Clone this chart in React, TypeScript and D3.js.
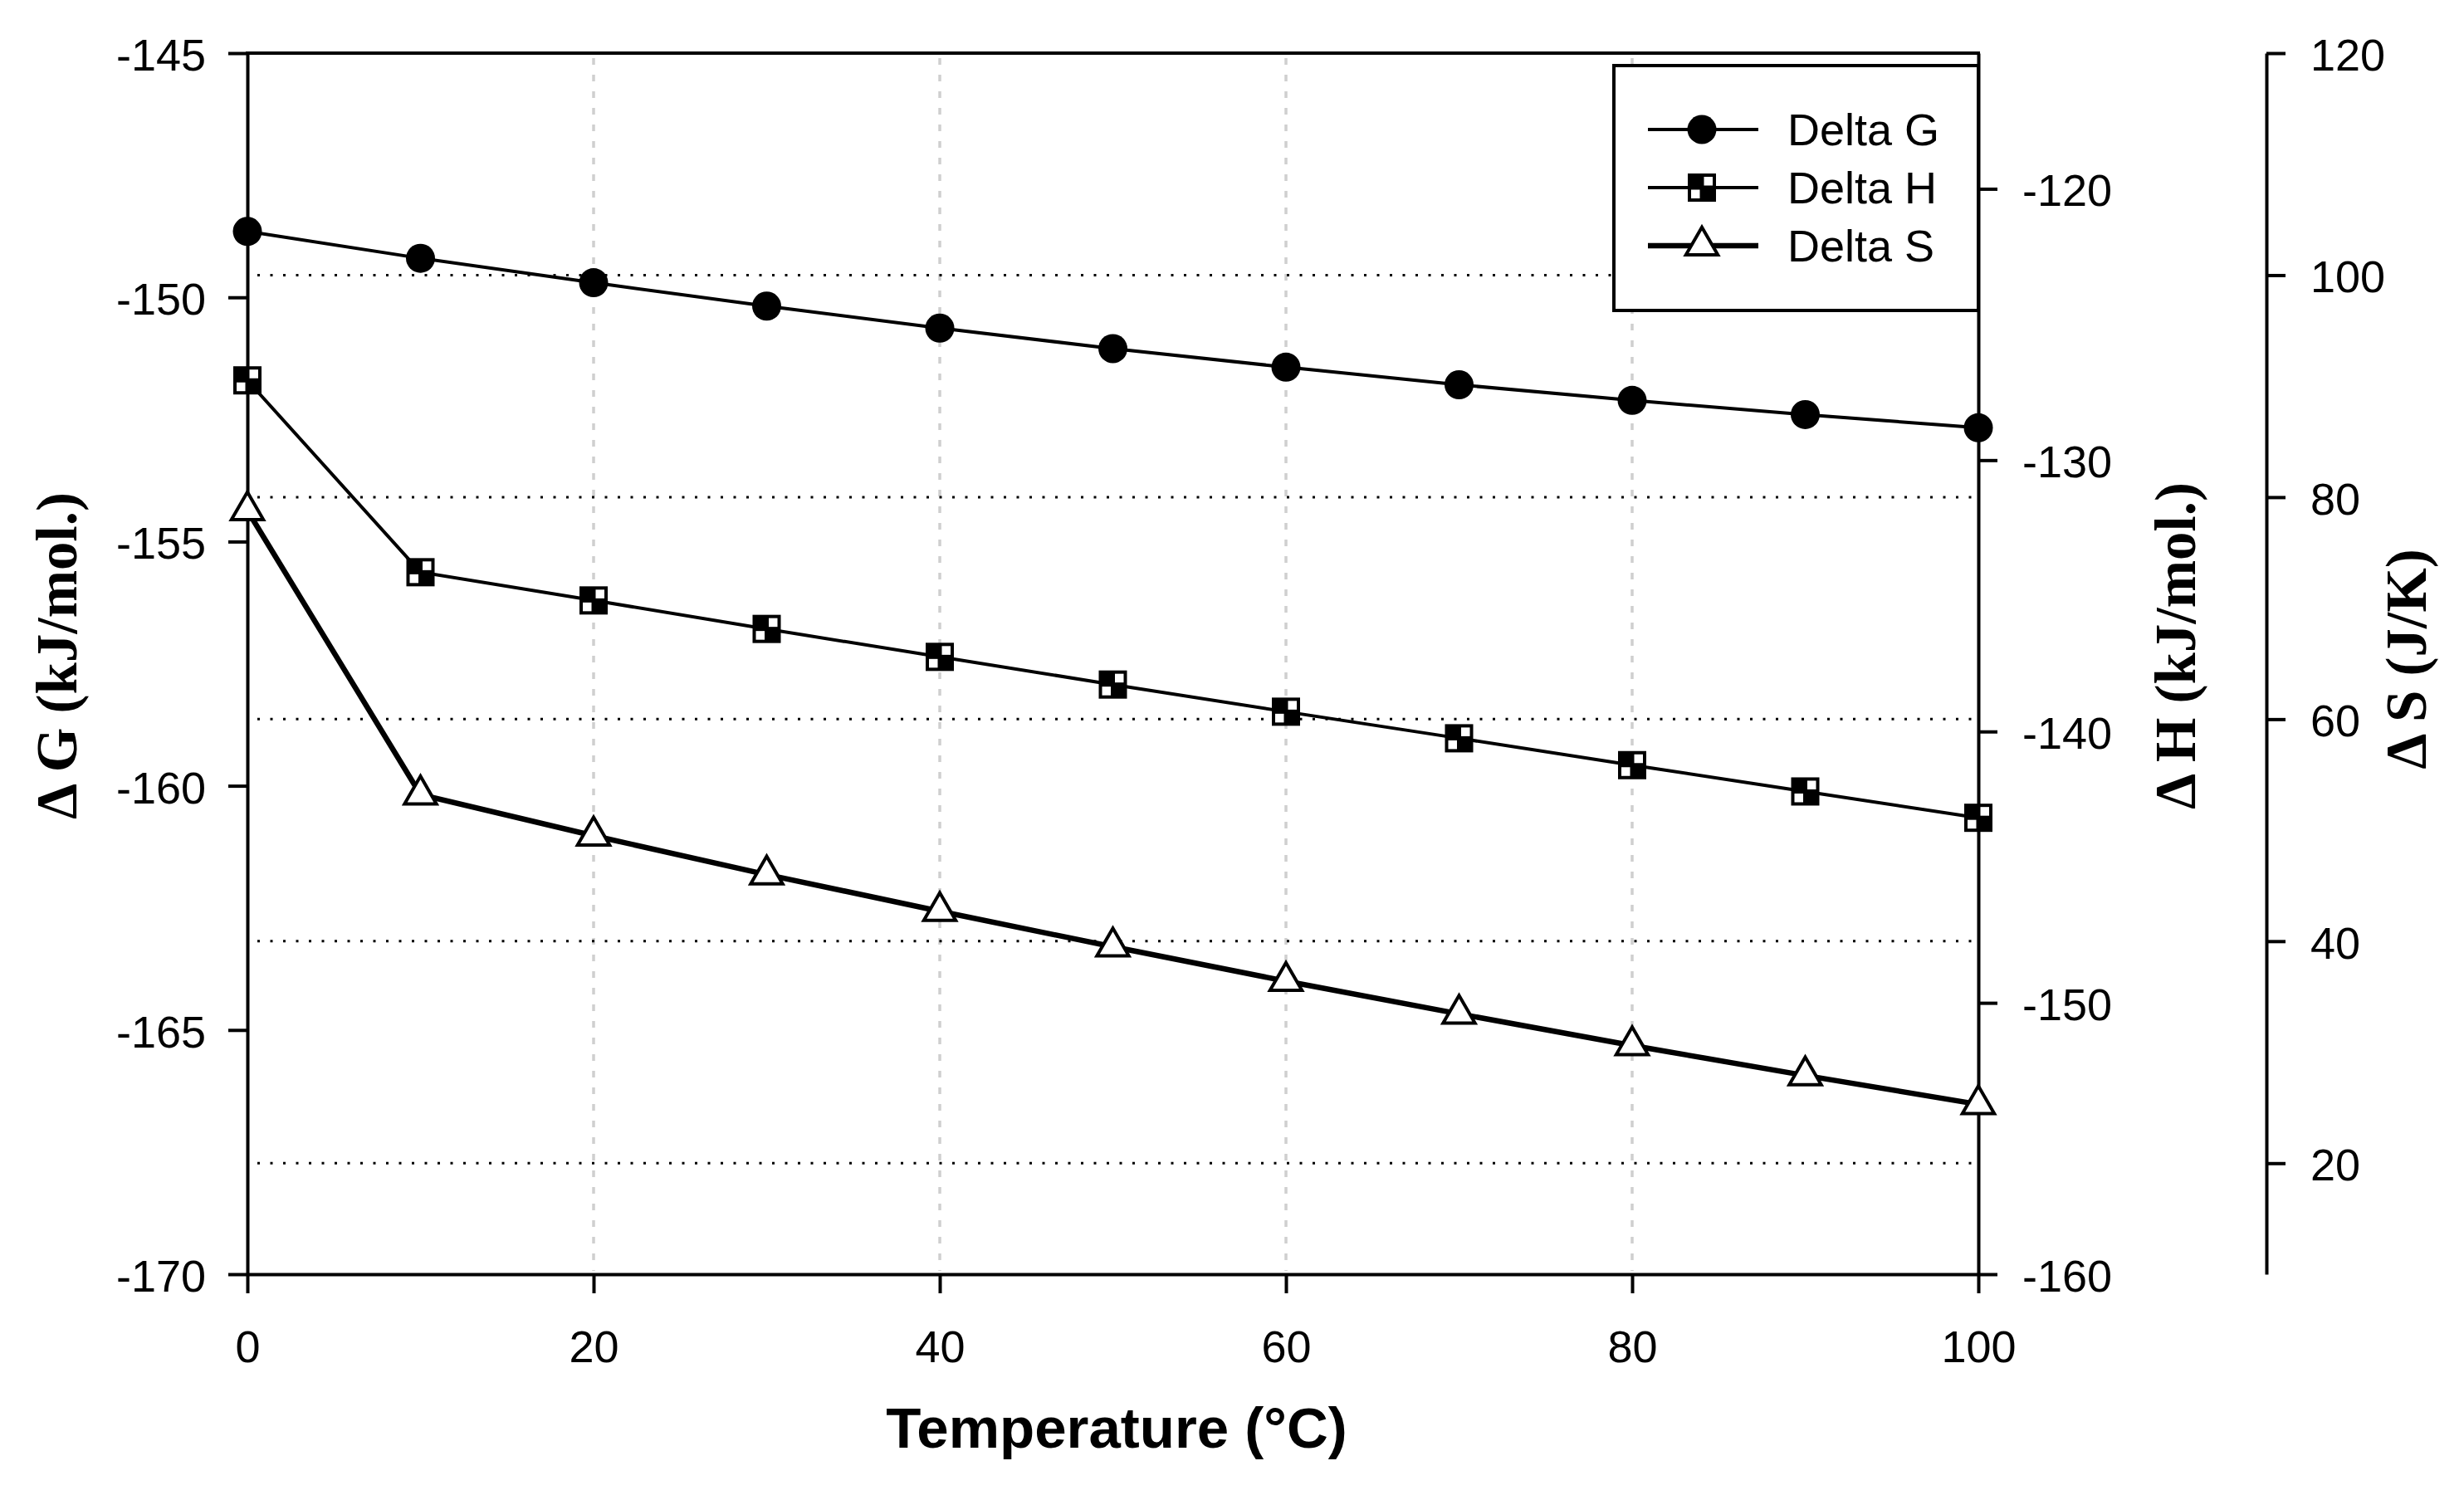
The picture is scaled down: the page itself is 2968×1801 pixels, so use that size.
import React, { useEffect, useRef } from "react";
import * as d3 from "d3";

const temperatures = [0, 10, 20, 30, 40, 50, 60, 70, 80, 90, 100];
const deltaG = [-148.65, -149.2, -149.7, -150.18, -150.63, -151.05, -151.43, -151.79, -152.11, -152.4, -152.67];
const deltaH = [-127.06, -134.13, -135.17, -136.22, -137.25, -138.27, -139.27, -140.25, -141.24, -142.21, -143.18];
const deltaS = [78.8, 53.2, 49.5, 46.0, 42.7, 39.5, 36.4, 33.45, 30.6, 27.9, 25.3];

const xTicks = [0, 20, 40, 60, 80, 100];
const gTicks = [-170, -165, -160, -155, -150, -145];
const hTicks = [-160, -150, -140, -130, -120];
const sTicks = [20, 40, 60, 80, 100, 120];
const xGrid = [20, 40, 60, 80];
const sGrid = [20, 40, 60, 80, 100];
const seriesNames = ["Delta G", "Delta H", "Delta S"];

const W = 2968;
const H = 1801;

const App: React.FC = () => {
  const svgRef = useRef<SVGSVGElement | null>(null);

  useEffect(() => {
    const left = 298, right = 2383, top = 64, bottom = 1535, sAxisX = 2730;
    const svg = d3.select(svgRef.current).attr("width", W).attr("height", H);
    svg.selectAll("*").remove();

    const x = d3.scaleLinear().domain([0, 100]).range([left, right]);
    const yG = d3.scaleLinear().domain([-170, -145]).range([bottom, top]);
    const yH = d3.scaleLinear().domain([-160, -115]).range([bottom, top]);
    const yS = d3.scaleLinear().domain([10, 120]).range([bottom, top]);
    const plain = (d: any) => String(d); // hyphen minus like the original

    // grid
    svg.append("g")
      .selectAll("line")
      .data(xGrid)
      .enter()
      .append("line")
      .attr("x1", (d) => x(d))
      .attr("x2", (d) => x(d))
      .attr("y1", top + 6)
      .attr("y2", bottom - 4)
      .attr("stroke", "#cfcfcf")
      .attr("stroke-width", 3.5)
      .attr("stroke-dasharray", "8 12");

    svg.append("g")
      .selectAll("line")
      .data(sGrid)
      .enter()
      .append("line")
      .attr("x1", left + 12)
      .attr("x2", right - 4)
      .attr("y1", (d) => yS(d))
      .attr("y2", (d) => yS(d))
      .attr("stroke", "#000")
      .attr("stroke-width", 3)
      .attr("stroke-dasharray", "3 12.5");

    // frame top
    svg.append("line")
      .attr("x1", left - 2).attr("x2", right + 2)
      .attr("y1", top).attr("y2", top)
      .attr("stroke", "#000").attr("stroke-width", 4);

    const styleAxis = (g: any) => {
      g.select(".domain").attr("stroke", "#000").attr("stroke-width", 4);
      g.selectAll(".tick line").attr("stroke", "#000").attr("stroke-width", 4);
      g.selectAll(".tick text")
        .attr("fill", "#000")
        .style("font-family", "'Liberation Sans', Arial, sans-serif")
        .style("font-size", "54px");
    };

    const gAxisLeft = svg.append("g")
      .attr("transform", `translate(${left},0)`)
      .call(d3.axisLeft(yG).tickValues(gTicks).tickFormat(plain).tickSize(23).tickSizeOuter(0).tickPadding(27));
    styleAxis(gAxisLeft);
    gAxisLeft.selectAll(".tick text").attr("dy", "0.38em");

    const gAxisBottom = svg.append("g")
      .attr("transform", `translate(0,${bottom})`)
      .call(d3.axisBottom(x).tickValues(xTicks).tickFormat(plain).tickSize(23).tickSizeOuter(0).tickPadding(45));
    styleAxis(gAxisBottom);

    const gAxisH = svg.append("g")
      .attr("transform", `translate(${right},0)`)
      .call(d3.axisRight(yH).tickValues(hTicks).tickFormat(plain).tickSize(23).tickSizeOuter(0).tickPadding(30));
    styleAxis(gAxisH);
    gAxisH.selectAll(".tick text").attr("dy", "0.38em");

    const gAxisS = svg.append("g")
      .attr("transform", `translate(${sAxisX},0)`)
      .call(d3.axisRight(yS).tickValues(sTicks).tickFormat(plain).tickSize(23).tickSizeOuter(0).tickPadding(30));
    styleAxis(gAxisS);
    gAxisS.selectAll(".tick text").attr("dy", "0.38em");

    // lines
    const rows = temperatures.map((t, i) => ({ t, g: deltaG[i], h: deltaH[i], s: deltaS[i] }));
    type Row = (typeof rows)[number];

    const drawLine = (fy: (d: Row) => number, w: number) =>
      svg.append("path")
        .datum(rows)
        .attr("fill", "none")
        .attr("stroke", "#000")
        .attr("stroke-width", w)
        .attr("stroke-linejoin", "round")
        .attr("d", d3.line<Row>().x((d) => x(d.t)).y(fy));

    drawLine((d) => yG(d.g), 4);
    drawLine((d) => yH(d.h), 4);
    drawLine((d) => yS(d.s), 6.5);

    const tri = d3.symbol().type(d3.symbolTriangle).size(640)()!;

    const drawCircle = (g: any, cx: number, cy: number) =>
      g.append("circle").attr("cx", cx).attr("cy", cy).attr("r", 17.5).attr("fill", "#000");

    const drawSquare = (g: any, cx: number, cy: number) => {
      g.append("rect")
        .attr("x", cx - 17).attr("y", cy - 17).attr("width", 34).attr("height", 34)
        .attr("fill", "#000");
      g.append("rect")
        .attr("x", cx + 2.5).attr("y", cy - 13).attr("width", 10.5).attr("height", 10.5)
        .attr("fill", "#fff");
      g.append("rect")
        .attr("x", cx - 13).attr("y", cy + 2.5).attr("width", 10.5).attr("height", 10.5)
        .attr("fill", "#fff");
    };

    const drawTriangle = (g: any, cx: number, cy: number) =>
      g.append("path")
        .attr("d", tri)
        .attr("transform", `translate(${cx},${cy})`)
        .attr("fill", "#fff")
        .attr("stroke", "#000")
        .attr("stroke-width", 4)
        .attr("stroke-linejoin", "miter");

    const markers = svg.append("g");
    rows.forEach((d) => drawTriangle(markers, x(d.t), yS(d.s)));
    rows.forEach((d) => drawSquare(markers, x(d.t), yH(d.h)));
    rows.forEach((d) => drawCircle(markers, x(d.t), yG(d.g)));

    // legend
    const legend = svg.append("g");
    legend.append("rect")
      .attr("x", 1944).attr("y", 79).attr("width", right - 1944).attr("height", 295)
      .attr("fill", "#fff").attr("stroke", "#000").attr("stroke-width", 4);
    const legendY = [156, 226, 296];
    const drawers = [drawCircle, drawSquare, drawTriangle];
    seriesNames.forEach((name, i) => {
      legend.append("line")
        .attr("x1", 1985).attr("x2", 2118)
        .attr("y1", legendY[i]).attr("y2", legendY[i])
        .attr("stroke", "#000").attr("stroke-width", i === 2 ? 6.5 : 4);
      drawers[i](legend, 2050, legendY[i]);
      legend.append("text")
        .attr("x", 2153).attr("y", legendY[i]).attr("dy", "0.36em")
        .style("font-family", "'Liberation Sans', Arial, sans-serif")
        .style("font-size", "54px")
        .text(name);
    });

    // axis titles
    const titleFont = "'Liberation Serif', 'Times New Roman', serif";
    const vTitle = (tx: number, ty: number, label: string) =>
      svg.append("text")
        .attr("transform", `translate(${tx},${ty}) rotate(-90)`)
        .attr("text-anchor", "middle")
        .style("font-family", titleFont)
        .style("font-weight", "bold")
        .style("font-size", "69px")
        .text(label);

    vTitle(92, 790, "Δ G (kJ/mol.)");
    vTitle(2644, 778, "Δ H (kJ/mol.)");
    vTitle(2922, 794, "Δ S (J/K)");

    svg.append("text")
      .attr("x", 1345).attr("y", 1744)
      .attr("text-anchor", "middle")
      .style("font-family", "'Liberation Sans', Arial, sans-serif")
      .style("font-weight", "bold")
      .style("font-size", "69px")
      .text("Temperature (°C)");
  }, []);

  return (
    <div style={{ position: "absolute", left: 0, top: 0, background: "#fff" }}>
      <svg ref={svgRef} style={{ display: "block" }}></svg>
    </div>
  );
};

export default App;
